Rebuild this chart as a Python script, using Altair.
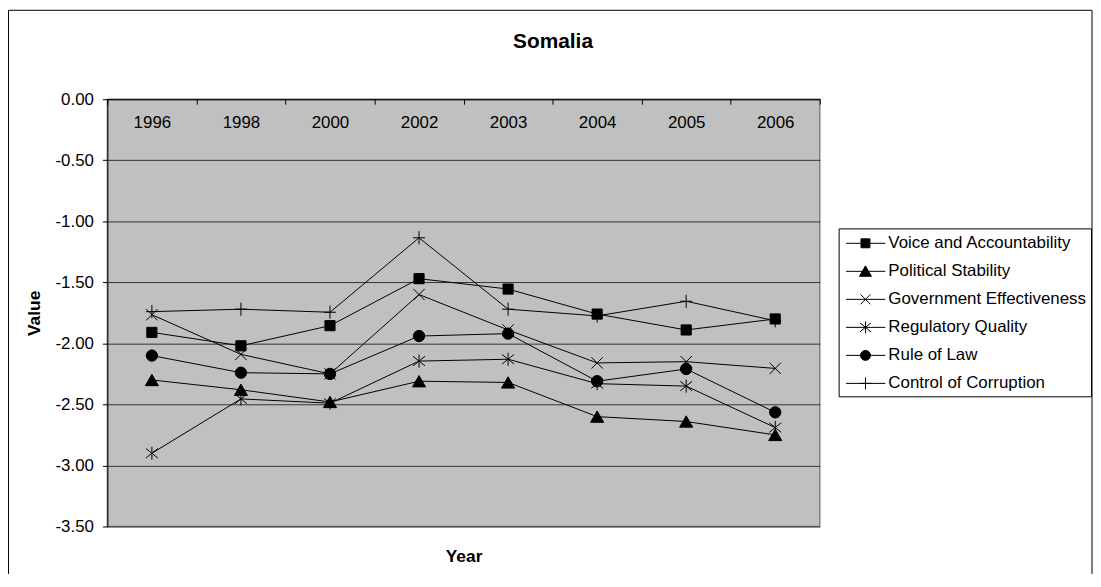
import altair as alt
import pandas as pd

years = ["1996", "1998", "2000", "2002", "2003", "2004", "2005", "2006"]
series_names = [
    "Voice and Accountability",
    "Political Stability",
    "Government Effectiveness",
    "Regulatory Quality",
    "Rule of Law",
    "Control of Corruption",
]
voice = [-1.91, -2.02, -1.855, -1.47, -1.555, -1.76, -1.89, -1.80]
political = [-2.30, -2.38, -2.48, -2.31, -2.32, -2.60, -2.64, -2.75]
government = [-1.765, -2.09, -2.25, -1.60, -1.89, -2.16, -2.15, -2.205]
regulatory = [-2.90, -2.455, -2.49, -2.145, -2.13, -2.33, -2.35, -2.69]
rule_of_law = [-2.10, -2.24, -2.25, -1.94, -1.92, -2.31, -2.21, -2.565]
corruption = [-1.74, -1.72, -1.745, -1.135, -1.72, -1.775, -1.655, -1.815]
y_ticks = [0, -0.5, -1.0, -1.5, -2.0, -2.5, -3.0, -3.5]

values = [voice, political, government, regulatory, rule_of_law, corruption]
rows = []
for name, vals in zip(series_names, values):
    for yr, v in zip(years, vals):
        rows.append({"series": name, "year": yr, "value": v})
df = pd.DataFrame(rows)

# marker shapes (plot), unit box -1..1
plot_shapes = [
    "M-0.85,-0.85H0.85V0.85H-0.85Z",
    "M0,-0.95L1.1,0.95L-1.1,0.95Z",
    "M-0.95,-0.95L0.95,0.95M-0.95,0.95L0.95,-0.95",
    "M-1,-0.8L1,0.8M-1,0.8L1,-0.8M0,-1.1L0,1.1",
    "M-0.95,0A0.95,0.95 0 1,0 0.95,0A0.95,0.95 0 1,0 -0.95,0Z",
    "M0,-1.1V1.1M-1,0H1",
]
plot_fill = ["black", "black", "transparent", "transparent", "black", "transparent"]

# legend symbols: outline layer (line + marker outlines) and fill layer
ln = "M-0.75,0H3.2"
sq = "M0.75,-0.45H1.65V0.45H0.75Z"
tri = "M1.2,-0.55L1.8,0.5L0.6,0.5Z"
xx = "M0.7,-0.5L1.7,0.5M0.7,0.5L1.7,-0.5"
ast = "M0.65,-0.45L1.75,0.45M0.65,0.45L1.75,-0.45M1.2,-0.6L1.2,0.6"
circ = "M0.7,0A0.5,0.5 0 1,0 1.7,0A0.5,0.5 0 1,0 0.7,0Z"
plus = "M1.2,-0.6V0.6M0.6,0H1.8"
empty = "M1.2,0L1.201,0"
legend_outline = [ln + sq, ln + tri, ln + xx, ln + ast, ln + circ, ln + plus]
legend_fill = [sq, tri, empty, empty, circ, empty]

FONT = "Liberation Sans"
W, H = 717, 430
LX, LY = 736, 130


def legend_params(visible):
    return alt.Legend(
        title=None,
        orient="none",
        legendX=LX,
        legendY=LY,
        direction="vertical",
        symbolSize=400,
        symbolStrokeWidth=1,
        symbolOpacity=1,
        labelOffset=24.5,
        labelFontSize=17,
        labelFont=FONT,
        labelColor="black" if visible else "transparent",
        rowPadding=9.2,
        padding=4.5,
        strokeColor="black" if visible else "transparent",
        labelLimit=400,
    )


x_enc = alt.X(
    "year:O",
    sort=years,
    scale=alt.Scale(type="band", domain=years, paddingInner=0, paddingOuter=0),
    axis=alt.Axis(
        orient="bottom",
        offset=-H,
        tickBand="extent",
        labelAngle=0,
        labelFontSize=17,
        labelPadding=10,
        tickSize=5,
        tickColor="black",
        domainColor="black",
        title="Year",
        titleFontSize=17.5,
        titleFontWeight="bold",
        titleY=460,
        titleBaseline="middle",
        grid=False,
    ),
)
y_enc = alt.Y(
    "value:Q",
    scale=alt.Scale(domain=[-3.5, 0], nice=False, zero=False),
    axis=alt.Axis(
        values=y_ticks,
        labelExpr="(datum.value < 0 ? '-' : '') + format(abs(datum.value), '.2f')",
        labelFontSize=17,
        labelPadding=9,
        tickSize=5,
        tickColor="black",
        domainColor="black",
        grid=True,
        gridColor="#333333",
        gridWidth=1,
        title="Value",
        titleFontSize=17.5,
        titleFontWeight="bold",
        titleX=-73,
        titleY=H / 2,
        titleAngle=270,
        titleBaseline="middle",
        titleAlign="center",
    ),
)

lines = alt.Chart(df).mark_line(color="black", strokeWidth=1).encode(
    x=x_enc, y=y_enc, detail="series:N"
)

points = alt.Chart(df).mark_point(strokeWidth=1, opacity=1).encode(
    x=alt.X("year:O", sort=years),
    y="value:Q",
    shape=alt.Shape("series:N", scale=alt.Scale(domain=series_names, range=plot_shapes), legend=None),
    fill=alt.Fill("series:N", scale=alt.Scale(domain=series_names, range=plot_fill), legend=None),
    stroke=alt.value("black"),
    size=alt.value(144),
)

legend_a = alt.Chart(df).transform_filter("false").mark_point(
    strokeWidth=1, opacity=1, filled=False, color="black"
).encode(
    x=alt.X("year:O", sort=years),
    y="value:Q",
    shape=alt.Shape(
        "series:N",
        scale=alt.Scale(domain=series_names, range=legend_outline),
        legend=legend_params(True),
    ),
    size=alt.value(400),
)

legend_b = alt.Chart(df).transform_filter("false").mark_point(
    strokeWidth=1, opacity=1, filled=True, color="black"
).encode(
    x=alt.X("year:O", sort=years),
    y="value:Q",
    shape=alt.Shape(
        "series:N",
        scale=alt.Scale(domain=series_names, range=legend_fill),
        legend=legend_params(False),
    ),
    size=alt.value(400),
)

frame = alt.Chart(alt.Data(values=[{"a": 1}])).mark_rect(
    fillOpacity=0, stroke="black", strokeWidth=1
).encode(
    x=alt.value(-99.5), x2=alt.value(991), y=alt.value(-89.5), y2=alt.value(600)
)

chart = (
    alt.layer(lines, points, legend_a, legend_b, frame)
    .resolve_scale(shape="independent", fill="independent")
    .properties(
        width=W,
        height=H,
        autosize=alt.AutoSizeParams(type="none"),
        padding={"left": 100, "top": 90, "right": 275, "bottom": 46},
        background="white",
        title=alt.TitleParams(
            "Somalia",
            font=FONT,
            fontSize=21,
            fontWeight="bold",
            color="black",
            anchor="middle",
            frame="group",
            dx=90,
            offset=0,
            dy=59,
            baseline="alphabetic",
        ),
    )
    .configure_view(fill="#C0C0C0", stroke="#808080", strokeWidth=1.5)
    .configure_axis(labelFont=FONT, titleFont=FONT, labelColor="black", titleColor="black")
)

chart.save("out.html", embed_options={"renderer": "svg", "actions": False})
